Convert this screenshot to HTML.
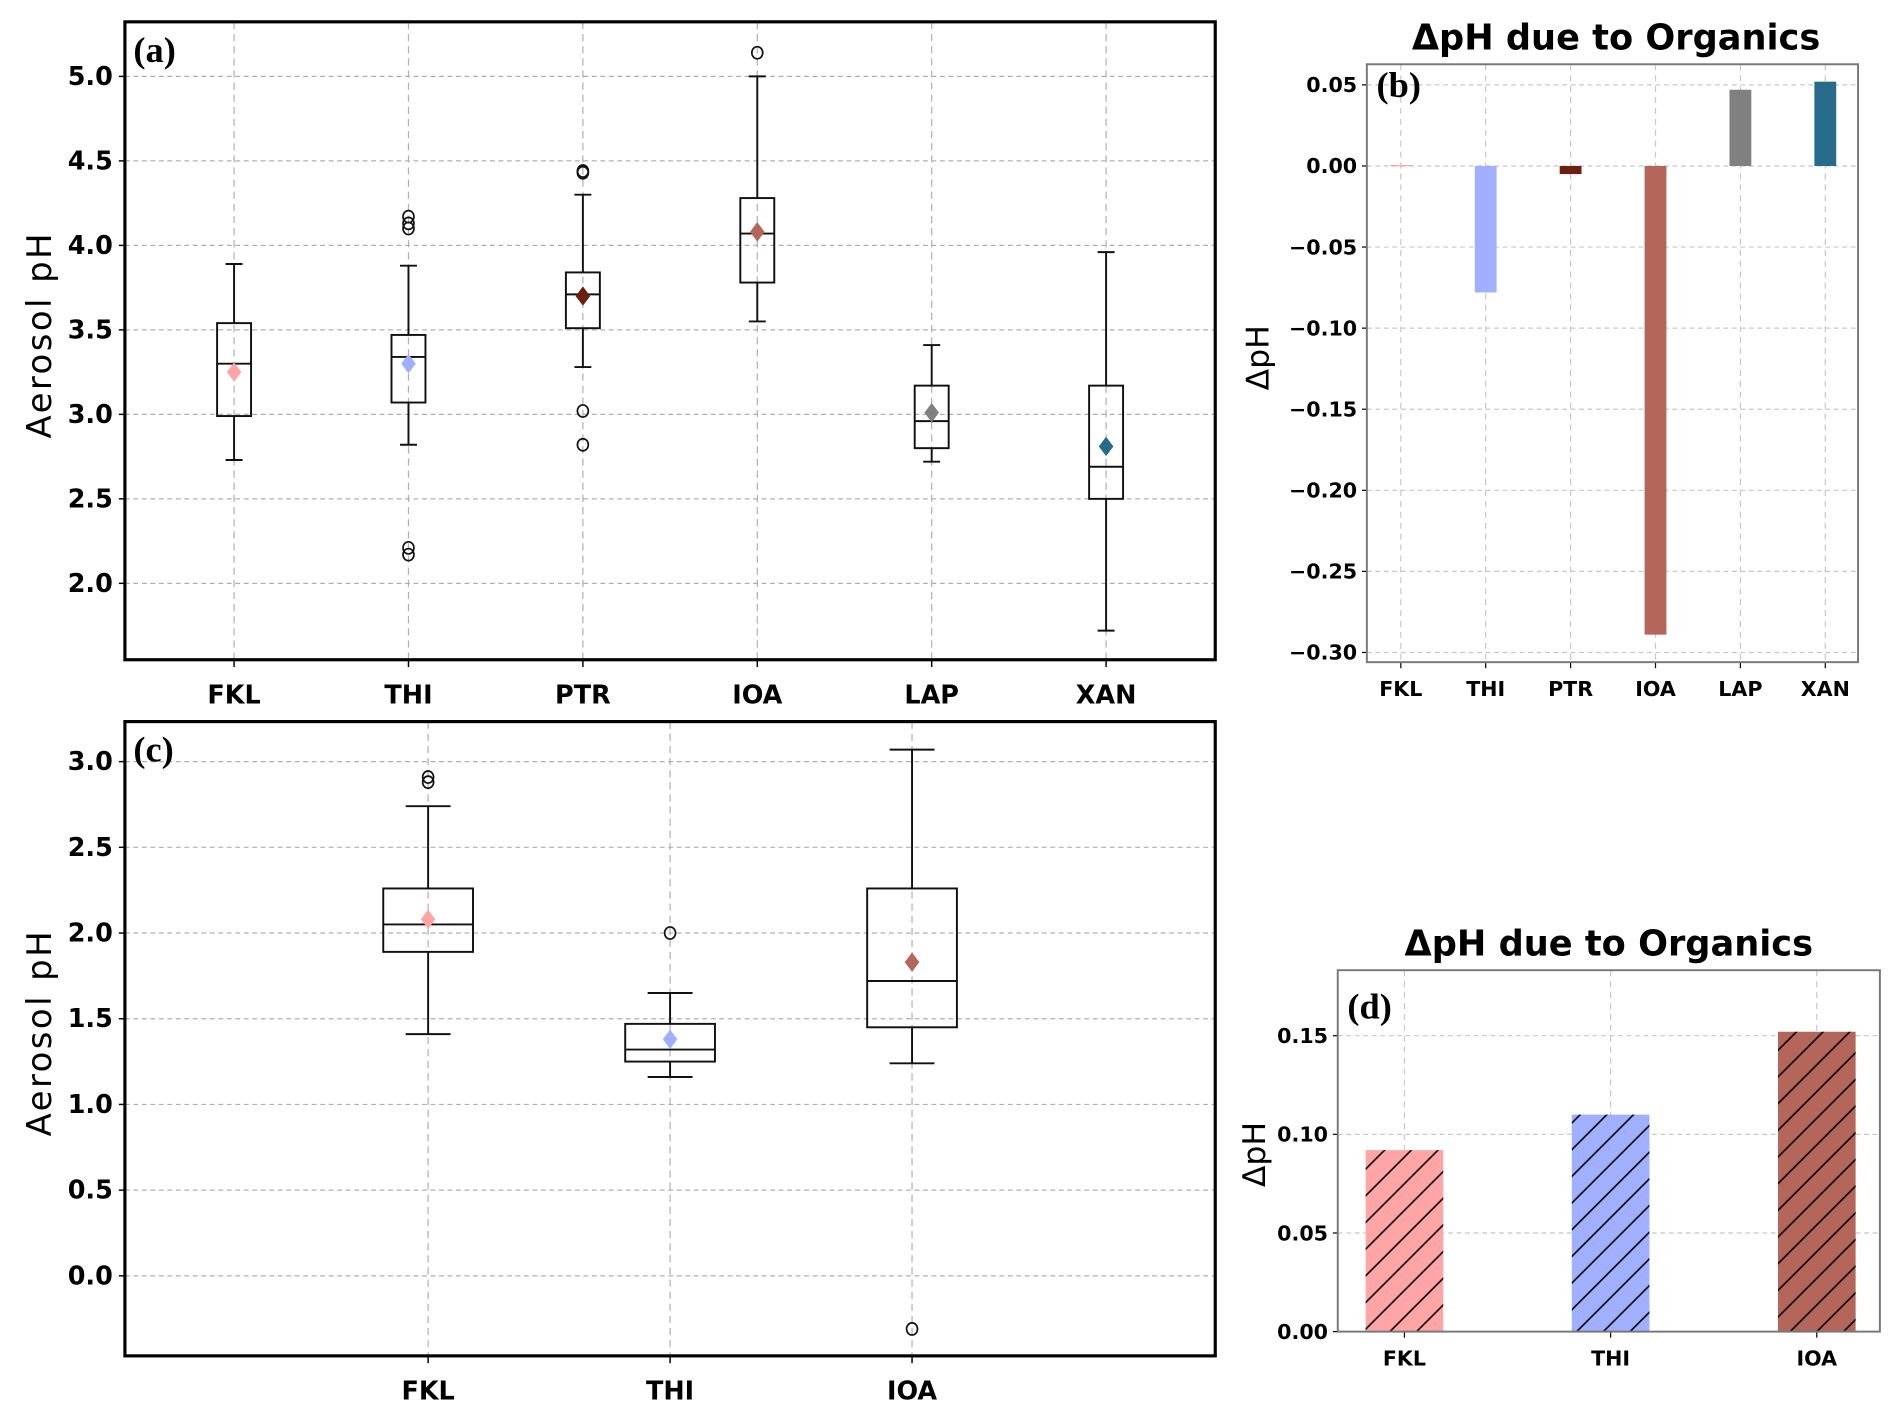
<!DOCTYPE html>
<html><head><meta charset="utf-8"><style>
html,body{margin:0;padding:0;background:#fff;}
svg{display:block;}
text{font-family:"DejaVu Sans","Liberation Sans",sans-serif;}
text.serif{font-family:"Liberation Serif",serif;}
</style></head><body>
<svg id="fig" width="1892" height="1417" viewBox="0 0 1560 1168.4" preserveAspectRatio="none" xmlns="http://www.w3.org/2000/svg">
<defs>
<pattern id="hatch" patternUnits="userSpaceOnUse" width="22" height="22">
<path d="M-2,24 L24,-2 M-13,13 L13,-13 M9,35 L35,9" stroke="#000" stroke-width="1.3"/>
</pattern>
</defs>
<g id="root"></g>
</svg>
<script>
// Panel (a) data
const catsA = ["FKL","THI","PTR","IOA","LAP","XAN"];
const colorsA = ["#ffa5a5","#a0b0ff","#6b2010","#b5665a","#808080","#276a8a"];
const whiskLoA = [2.73,2.82,3.28,3.55,2.72,1.72];
const whiskHiA = [3.89,3.88,4.30,5.00,3.41,3.96];
const q1A = [2.99,3.07,3.51,3.78,2.80,2.50];
const q3A = [3.54,3.47,3.84,4.28,3.17,3.17];
const medA = [3.30,3.34,3.71,4.07,2.96,2.69];
const meanA = [3.25,3.30,3.70,4.08,3.01,2.81];
const outA = [[],[4.17,4.13,4.10,2.21,2.17],[4.44,4.43,3.02,2.82],[5.14],[],[]];
const ticksA = [2.0,2.5,3.0,3.5,4.0,4.5,5.0];
// Panel (c) data
const catsC = ["FKL","THI","IOA"];
const colorsC = ["#ffa5a5","#a0b0ff","#b5665a"];
const whiskLoC = [1.41,1.16,1.24];
const whiskHiC = [2.74,1.65,3.07];
const q1C = [1.89,1.25,1.45];
const q3C = [2.26,1.47,2.26];
const medC = [2.05,1.32,1.72];
const meanC = [2.08,1.38,1.83];
const outC = [[2.91,2.88],[2.00],[-0.31]];
const ticksC = [0.0,0.5,1.0,1.5,2.0,2.5,3.0];
// Panel (b) data
const catsB = ["FKL","THI","PTR","IOA","LAP","XAN"];
const valsB = [0.0006,-0.078,-0.005,-0.289,0.047,0.052];
const ticksB = [-0.30,-0.25,-0.20,-0.15,-0.10,-0.05,0.00,0.05];
// Panel (d) data
const catsD = ["FKL","THI","IOA"];
const valsD = [0.092,0.110,0.152];
const colorsD = ["#ffa5a5","#a0b0ff","#b5665a"];
const ticksD = [0.00,0.05,0.10,0.15];

const NS="http://www.w3.org/2000/svg";
const root=document.getElementById('root');
function el(tag,attrs,parent,txt){const e=document.createElementNS(NS,tag);for(const k in attrs)e.setAttribute(k,attrs[k]);if(txt!==undefined)e.textContent=txt;(parent||root).appendChild(e);return e;}
function lin(d0,d1,r0,r1){return v=>r0+(v-d0)*(r1-r0)/(d1-d0);}

function boxPanel(o){
  const g=el('g',{});
  
  
  const {L,R,T,B}=o;
  const y=lin(o.y0v,o.y1v,o.y0p,o.y1p);
  const x=lin(o.x0v,o.x1v,o.x0p,o.x1p);
  o.ticks.forEach(t=>{const yy=y(t);
    const gl=el('line',{x1:L,x2:R,y1:yy,y2:yy,stroke:'#b0b0b0','stroke-width':1,'stroke-dasharray':'4,3'},g);
    
    el('line',{x1:L-5,x2:L,y1:yy,y2:yy,stroke:'#000','stroke-width':1.2},g);
    const tl=el('text',{x:L-10,y:yy+7,'text-anchor':'end','font-size':21,'font-weight':'bold'},g,t.toFixed(1));
    
  });
  o.cats.forEach((c,i)=>{const xx=x(i+1);
    el('line',{x1:xx,x2:xx,y1:T,y2:B,stroke:'#b0b0b0','stroke-width':1,'stroke-dasharray':'6,4'},g);
    el('line',{x1:xx,x2:xx,y1:B,y2:B+6,stroke:'#000','stroke-width':1.2},g);
    const tl=el('text',{x:xx,y:B+36,'text-anchor':'middle','font-size':21,'font-weight':'bold'},g,c);
    
  });
  o.cats.forEach((c,i)=>{const xx=x(i+1),hw=o.hw,cw=o.hw/2;
    const bg=el('g',{},g);
    
    
    const s={stroke:'#111','stroke-width':1.6,fill:'none'};
    el('line',Object.assign({x1:xx,x2:xx,y1:y(o.wlo[i]),y2:y(o.q1[i])},s),bg);
    el('line',Object.assign({x1:xx,x2:xx,y1:y(o.q3[i]),y2:y(o.whi[i])},s),bg);
    el('line',Object.assign({x1:xx-cw,x2:xx+cw,y1:y(o.wlo[i]),y2:y(o.wlo[i])},s),bg);
    el('line',Object.assign({x1:xx-cw,x2:xx+cw,y1:y(o.whi[i]),y2:y(o.whi[i])},s),bg);
    el('rect',Object.assign({x:xx-hw,y:y(o.q3[i]),width:2*hw,height:y(o.q1[i])-y(o.q3[i])},s),bg);
    el('line',Object.assign({x1:xx-hw,x2:xx+hw,y1:y(o.med[i]),y2:y(o.med[i])},s),bg);
    o.out[i].forEach(v=>{el('ellipse',{cx:xx,cy:y(v),rx:4.5,ry:5,fill:'none',stroke:'#111','stroke-width':1.4},bg);});
    const my=y(o.mean[i]);
    el('path',{d:`M${xx},${my-8} L${xx+6},${my} L${xx},${my+8} L${xx-6},${my} Z`,fill:o.colors[i]},bg);
  });
  el('rect',{x:L,y:T,width:R-L,height:B-T,fill:'none',stroke:'#000','stroke-width':2.6},g);
  const lab=el('text',{x:L+7,y:T+33,'font-size':30,'font-weight':'bold','class':'serif'},g,o.label);
  
  const yl=el('text',{x:0,y:0,'font-size':28,'letter-spacing':2,'text-anchor':'middle',transform:`translate(42,${(T+B)/2-5}) rotate(-90)`},g,'Aerosol pH');
  
}

boxPanel({name:'panel-a',label:'(a)',L:103,R:1002,T:18,B:544,y0v:5.0,y0p:63,y1v:2.0,y1p:481,x0v:1,x0p:193,x1v:6,x1p:912,hw:14,
  cats:catsA,colors:colorsA,wlo:whiskLoA,whi:whiskHiA,q1:q1A,q3:q3A,med:medA,mean:meanA,out:outA,ticks:ticksA});
boxPanel({name:'panel-c',label:'(c)',L:103,R:1002,T:595,B:1118,y0v:3.0,y0p:628,y1v:0.0,y1p:1052,x0v:1,x0p:353,x1v:3,x1p:752,hw:37,
  cats:catsC,colors:colorsC,wlo:whiskLoC,whi:whiskHiC,q1:q1C,q3:q3C,med:medC,mean:meanC,out:outC,ticks:ticksC});

function barPanel(o){
  const g=el('g',{});
  
  
  const {L,R,T,B}=o;
  const Y=lin(o.ya,o.yb,o.pa,o.pb);
  const X=lin(1,o.cats.length,o.xa,o.xb);
  o.ticks.forEach(t=>{const yy=Y(t);
    el('line',{x1:L,x2:R,y1:yy,y2:yy,stroke:'#c8c8c8','stroke-width':1,'stroke-dasharray':'4,3'},g);
    el('line',{x1:L-4,x2:L,y1:yy,y2:yy,stroke:'#000','stroke-width':1},g);
    const tl=el('text',{x:L-8,y:yy+6,'text-anchor':'end','font-size':17,'font-weight':'bold'},g,t.toFixed(2).replace('-','\u2212'));
    
  });
  o.cats.forEach((c,i)=>{const xx=X(i+1);
    el('line',{x1:xx,x2:xx,y1:T,y2:B,stroke:'#c8c8c8','stroke-width':1,'stroke-dasharray':'5,4'},g);
    el('line',{x1:xx,x2:xx,y1:B,y2:B+5,stroke:'#000','stroke-width':1},g);
    const tl=el('text',{x:xx,y:B+28,'text-anchor':'middle','font-size':17,'font-weight':'bold'},g,c);
    
  });
  o.vals.forEach((v,i)=>{const xx=X(i+1),y0=Y(0),y1=Y(v);
    const r=el('rect',{x:xx-o.bw/2,y:Math.min(y0,y1),width:o.bw,height:Math.max(Math.abs(y1-y0),1),fill:o.colors[i]},g);
    
    
    if(o.hatch){el('rect',{x:xx-o.bw/2,y:Math.min(y0,y1),width:o.bw,height:Math.abs(y1-y0),fill:'url(#hatch)'},g);}
  });
  el('rect',{x:L,y:T,width:R-L,height:B-T,fill:'none',stroke:'#777','stroke-width':1.6},g);
  const ti=el('text',{x:(L+R)/2+o.tdx,y:T-12,'text-anchor':'middle','font-size':29,'font-weight':'bold'},g,'\u0394pH due to Organics');
  
  const lab=el('text',{x:L+8,y:o.ly,'font-size':30,'font-weight':'bold','class':'serif'},g,o.label);
  
  const yl=el('text',{x:0,y:0,'font-size':26,'text-anchor':'middle',transform:`translate(${o.ylx},${o.yly}) rotate(-90)`},g,'\u0394pH');
  
}
barPanel({name:'panel-b',label:'(b)',L:1127,R:1532,T:53,B:546,ya:0.05,yb:-0.30,pa:70,pb:538,xa:1155,xb:1505,bw:18,
  cats:catsB,vals:valsB,colors:["#ffa5a5","#a0b0ff","#6b2010","#b5665a","#808080","#276a8a"],ticks:ticksB,tdx:3,ly:80,ylx:1046,yly:295,hatch:false});
barPanel({name:'panel-d',label:'(d)',L:1103,R:1550,T:800,B:1098,ya:0.15,yb:0.0,pa:854,pb:1098,xa:1158,xb:1498,bw:64,
  cats:catsD,vals:valsD,colors:colorsD,ticks:ticksD,tdx:0,ly:840,ylx:1043,yly:952,hatch:true});
</script>
</body></html>
